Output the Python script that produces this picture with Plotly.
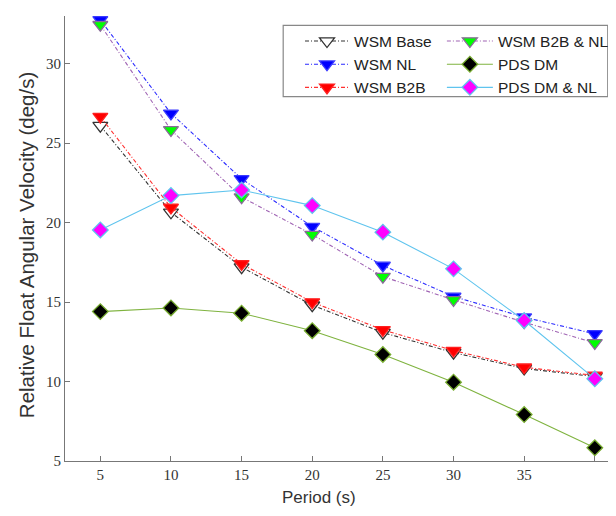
import plotly.graph_objects as go

period = [5, 10, 15, 20, 25, 30, 35, 40]
x_tick_labels = ["5", "10", "15", "20", "25", "30", "35", ""]
y_ticks = [5, 10, 15, 20, 25, 30]

wsm_base = [26.1, 20.65, 17.2, 14.8, 13.08, 11.82, 10.82, 10.31]
wsm_nl = [32.75, 26.87, 22.75, 19.75, 17.3, 15.35, 14.05, 13.0]
wsm_b2b = [26.67, 20.95, 17.4, 15.0, 13.25, 11.95, 10.9, 10.38]
wsm_b2b_nl = [32.45, 25.83, 21.6, 19.25, 16.6, 15.14, 13.73, 12.43]
pds_dm = [14.4, 14.63, 14.3, 13.2, 11.7, 9.96, 7.92, 5.83]
pds_dm_nl = [19.54, 21.7, 22.05, 21.07, 19.4, 17.09, 13.84, 10.17]

series = [
    # name, values, line colour, dash, symbol, fill, edge, legend
    ("WSM Base", wsm_base, "#333333", "dd", "triangle-down", "white", "#333333", "legend"),
    ("WSM NL", wsm_nl, "#2b2bff", "dd", "triangle-down", "#0000ff", "#3b3bff", "legend"),
    ("WSM B2B", wsm_b2b, "#ff3030", "dd", "triangle-down", "#ff0000", "#ff2020", "legend"),
    ("WSM B2B & NL", wsm_b2b_nl, "#a064b4", "dd", "triangle-down", "#00ff00", "#8a6a9a", "legend2"),
    ("PDS DM", pds_dm, "#7fb33f", "solid", "diamond", "#000000", "#77ac30", "legend2"),
    ("PDS DM & NL", pds_dm_nl, "#5fc4ee", "solid", "diamond", "#ff00ff", "#5fc4ee", "legend2"),
]

fig = go.Figure()
for name, vals, lc, dash, sym, fill, edge, leg in series:
    fig.add_trace(go.Scatter(
        x=period, y=vals, name=name, mode="lines+markers",
        line=dict(color=lc, width=1.1, dash="4px,2px,1px,2px" if dash == "dd" else "solid"),
        marker=dict(symbol=sym, size=13 if "triangle" in sym else 12,
                    color=fill, line=dict(color=edge, width=1.3)),
        legend=leg,
    ))

legend_common = dict(
    bgcolor="rgba(255,255,255,0)", borderwidth=0,
    font=dict(family="Liberation Sans, Arial, sans-serif", size=15.5, color="#222"),
    yanchor="top", xanchor="left", tracegroupgap=0,
)

sans = "Liberation Sans, Arial, sans-serif"
serif = "Liberation Serif, DejaVu Serif, serif"

# the page body adds an 8px offset; the figure is sized to fill the rest
fig.update_layout(
    width=608, height=508,
    margin=dict(l=57, r=0, t=8, b=55),
    paper_bgcolor="white", plot_bgcolor="white",
    showlegend=True,
    legend=dict(x=0.4265, y=0.981, itemwidth=44, **legend_common),
    legend2=dict(x=0.684, y=0.981, itemwidth=46, **legend_common),
    xaxis=dict(
        range=[2.5, 41.5], tickvals=period, ticktext=x_tick_labels,
        ticks="inside", ticklen=5, tickcolor="#777", showline=True,
        linecolor="#777", linewidth=1, showgrid=False, zeroline=False,
        tickfont=dict(family=serif, size=15, color="#333"),
    ),
    yaxis=dict(
        range=[5, 33], tickvals=y_ticks,
        ticks="inside", ticklen=5, tickcolor="#777", showline=True,
        linecolor="#777", linewidth=1, showgrid=False, zeroline=False,
        tickfont=dict(family=serif, size=15, color="#333"),
    ),
    annotations=[
        dict(text="Period (s)", xref="paper", yref="paper", x=0.461, y=-0.082,
             xanchor="center", yanchor="middle", showarrow=False,
             font=dict(family=sans, size=17, color="#333")),
        dict(text="Relative Float Angular Velocity (deg/s)", xref="paper", yref="paper",
             x=-0.0708, y=0.485, textangle=-90, xanchor="center", yanchor="middle",
             showarrow=False, font=dict(family=sans, size=20.5, color="#333")),
    ],
    shapes=[dict(type="rect", xref="paper", yref="paper",
                 x0=0.396, x1=0.985, y0=0.819, y1=0.979,
                 line=dict(color="#888", width=1.2), fillcolor="white", layer="below")],
)

fig.write_html("out.html")
